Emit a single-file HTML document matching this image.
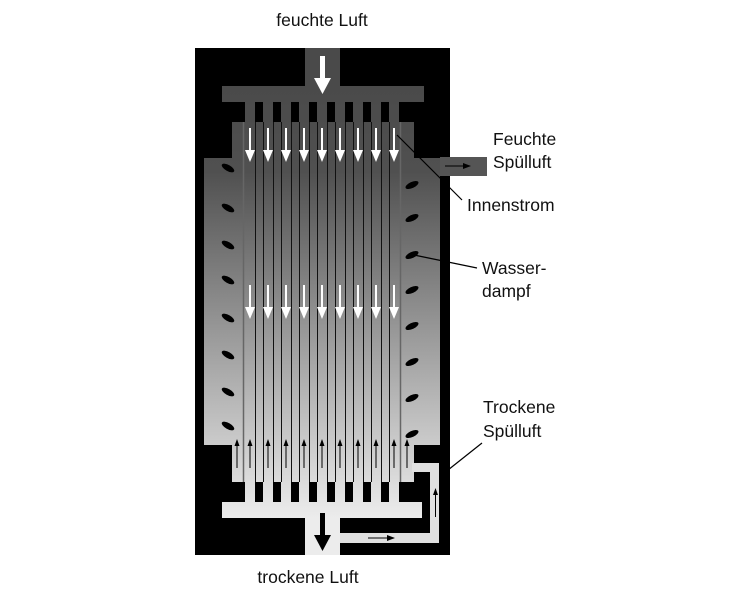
<!DOCTYPE html>
<html><head><meta charset="utf-8"><style>
body{margin:0;background:#fff;}
svg{display:block;}
text{font-family:"Liberation Sans",sans-serif;font-size:17.5px;fill:#111;}
</style></head><body>
<svg width="750" height="600" viewBox="0 0 750 600" xmlns="http://www.w3.org/2000/svg">
<defs>
<linearGradient id="g" x1="0" y1="85" x2="0" y2="518" gradientUnits="userSpaceOnUse">
<stop offset="0" stop-color="#4a4a4a"/>
<stop offset="0.2" stop-color="#505050"/>
<stop offset="1" stop-color="#ececec"/>
</linearGradient>
<marker id="ab" markerWidth="8" markerHeight="6" refX="7" refY="3" orient="auto" markerUnits="userSpaceOnUse"><path d="M0,0 L8,3 L0,6 z" fill="#000"/></marker>
</defs>
<rect x="195" y="48" width="255" height="507" fill="#000"/>
<path d="M232,122 H414 V158 H440 V445 H414 V482 H232 V445 H204 V158 H232 Z" fill="url(#g)"/>
<rect x="305" y="48" width="35" height="40" fill="url(#g)"/>
<rect x="222" y="86" width="202" height="16" fill="url(#g)"/>
<rect x="222" y="502" width="200" height="16" fill="url(#g)"/>
<rect x="305" y="515" width="35" height="40" fill="url(#g)"/>
<rect x="440" y="157" width="47" height="19" fill="#555"/>
<path d="M340,533 H430 V472 H412 V463 H439 V543 H340 Z" fill="#e0e0e0"/>
<g>
<rect x="245" y="100" width="10" height="404" fill="url(#g)"/>
<rect x="263" y="100" width="10" height="404" fill="url(#g)"/>
<rect x="281" y="100" width="10" height="404" fill="url(#g)"/>
<rect x="299" y="100" width="10" height="404" fill="url(#g)"/>
<rect x="317" y="100" width="10" height="404" fill="url(#g)"/>
<rect x="335" y="100" width="10" height="404" fill="url(#g)"/>
<rect x="353" y="100" width="10" height="404" fill="url(#g)"/>
<rect x="371" y="100" width="10" height="404" fill="url(#g)"/>
<rect x="389" y="100" width="10" height="404" fill="url(#g)"/>
</g>
<g stroke="#111" stroke-width="1">
<path d="M255.5,122V482 M263.5,122V482 M273.5,122V482 M281.5,122V482 M291.5,122V482 M299.5,122V482 M309.5,122V482 M317.5,122V482 M327.5,122V482 M335.5,122V482 M345.5,122V482 M353.5,122V482 M363.5,122V482 M371.5,122V482 M381.5,122V482 M389.5,122V482"/>
</g>
<path d="M243.5,122V482 M400.5,122V482" stroke="#666" stroke-width="1.5"/>
<path d="M320,56 h5 v22 h6 l-8.5,16 l-8.5,-16 h6 z" fill="#fff"/>
<path d="M320,513 h5 v22 h6 l-8.5,16 l-8.5,-16 h6 z" fill="#000"/>
<g fill="#fff">
<path id="wa" d="M249,128 h2 v22 h4 l-5,12 l-5,-12 h4 z"/>
<use href="#wa" x="18"/><use href="#wa" x="36"/><use href="#wa" x="54"/><use href="#wa" x="72"/><use href="#wa" x="90"/><use href="#wa" x="108"/><use href="#wa" x="126"/><use href="#wa" x="144"/>
<use href="#wa" y="157"/><use href="#wa" x="18" y="157"/><use href="#wa" x="36" y="157"/><use href="#wa" x="54" y="157"/><use href="#wa" x="72" y="157"/><use href="#wa" x="90" y="157"/><use href="#wa" x="108" y="157"/><use href="#wa" x="126" y="157"/><use href="#wa" x="144" y="157"/>
</g>
<g fill="#000">
<path id="ua" d="M249.5,468 h1 v-22 h2 l-2.5,-7 l-2.5,7 h2 z"/>
<use href="#ua" x="-13"/><use href="#ua" x="18"/><use href="#ua" x="36"/><use href="#ua" x="54"/><use href="#ua" x="72"/><use href="#ua" x="90"/><use href="#ua" x="108"/><use href="#ua" x="126"/><use href="#ua" x="144"/><use href="#ua" x="157"/>
<path d="M435,517 h1 v-22 h2 l-2.5,-7 l-2.5,7 h2 z"/>
</g>
<line x1="445" y1="166" x2="470" y2="166" stroke="#000" stroke-width="1" marker-end="url(#ab)"/>
<line x1="368" y1="538" x2="394" y2="538" stroke="#000" stroke-width="1" marker-end="url(#ab)"/>
<g fill="#000">
<ellipse cx="228" cy="168" rx="7" ry="3" transform="rotate(30 228 168)"/>
<ellipse cx="228" cy="208" rx="7" ry="3" transform="rotate(30 228 208)"/>
<ellipse cx="228" cy="245" rx="7" ry="3" transform="rotate(30 228 245)"/>
<ellipse cx="228" cy="280" rx="7" ry="3" transform="rotate(30 228 280)"/>
<ellipse cx="228" cy="318" rx="7" ry="3" transform="rotate(30 228 318)"/>
<ellipse cx="228" cy="355" rx="7" ry="3" transform="rotate(30 228 355)"/>
<ellipse cx="228" cy="392" rx="7" ry="3" transform="rotate(30 228 392)"/>
<ellipse cx="228" cy="426" rx="7" ry="3" transform="rotate(30 228 426)"/>
<ellipse cx="412" cy="185" rx="7" ry="3" transform="rotate(-25 412 185)"/>
<ellipse cx="412" cy="218" rx="7" ry="3" transform="rotate(-25 412 218)"/>
<ellipse cx="412" cy="255" rx="7" ry="3" transform="rotate(-25 412 255)"/>
<ellipse cx="412" cy="290" rx="7" ry="3" transform="rotate(-25 412 290)"/>
<ellipse cx="412" cy="326" rx="7" ry="3" transform="rotate(-25 412 326)"/>
<ellipse cx="412" cy="362" rx="7" ry="3" transform="rotate(-25 412 362)"/>
<ellipse cx="412" cy="398" rx="7" ry="3" transform="rotate(-25 412 398)"/>
<ellipse cx="412" cy="434" rx="7" ry="3" transform="rotate(-25 412 434)"/>
</g>
<g stroke="#000" stroke-width="1.2" fill="none">
<line x1="397" y1="135" x2="462" y2="200"/>
<line x1="414" y1="255" x2="477" y2="268"/>
<line x1="448" y1="470" x2="482" y2="443"/>
</g>
<text x="322" y="26" text-anchor="middle">feuchte Luft</text>
<text x="493" y="145">Feuchte</text>
<text x="493" y="168">Spülluft</text>
<text x="467" y="211">Innenstrom</text>
<text x="482" y="274">Wasser-</text>
<text x="482" y="297">dampf</text>
<text x="483" y="413">Trockene</text>
<text x="483" y="437">Spülluft</text>
<text x="308" y="583" text-anchor="middle">trockene Luft</text>
</svg>
</body></html>
